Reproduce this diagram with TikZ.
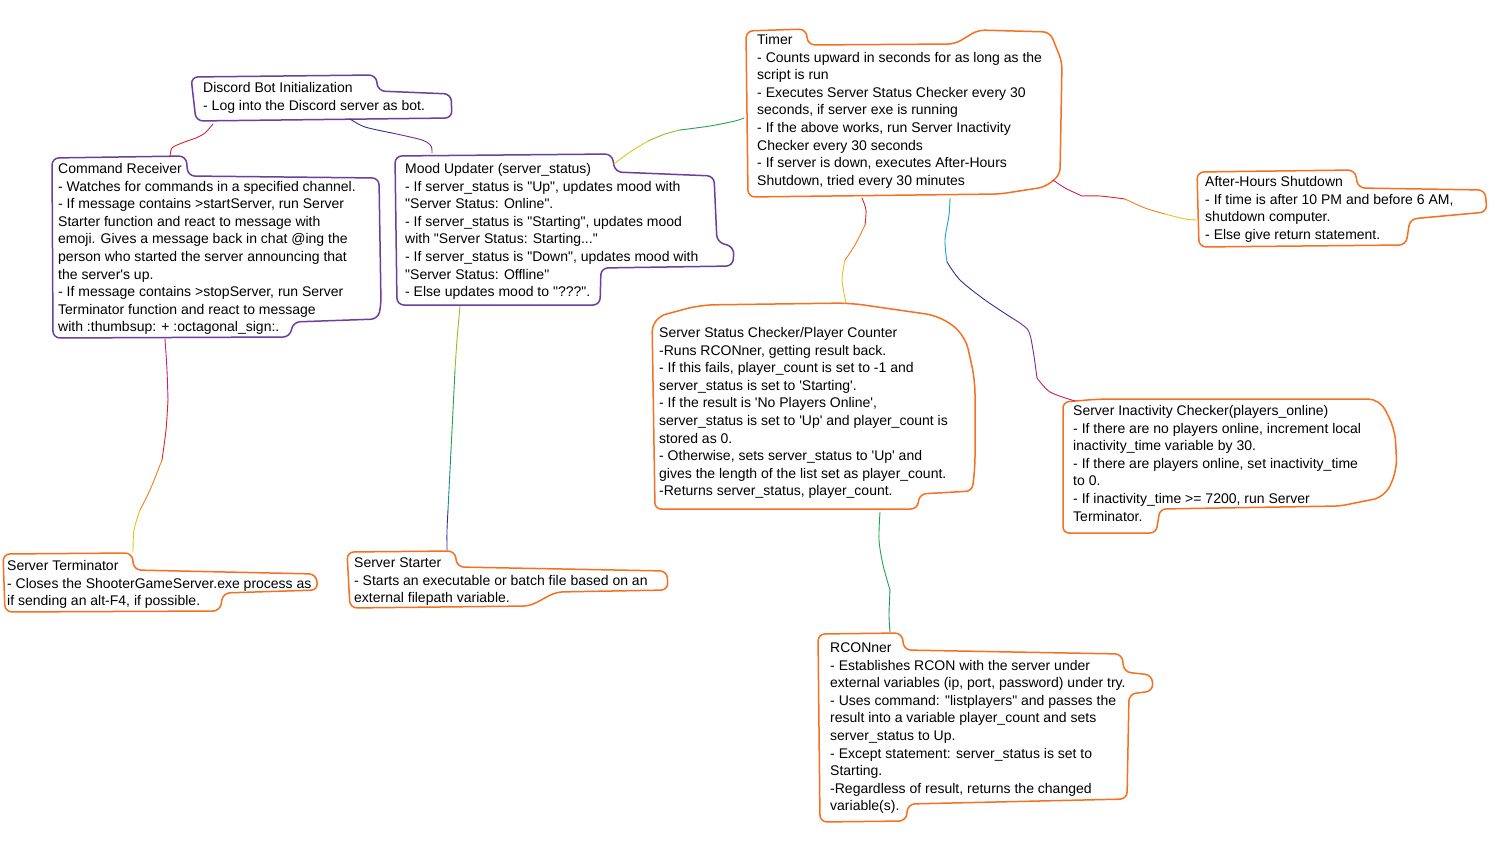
\documentclass[tikz,border=0pt]{standalone}
\usepackage{fontspec}
\newfontfamily\hand{Liberation Sans}
\definecolor{boxorange}{RGB}{245,112,32}
\definecolor{boxpurple}{RGB}{108,62,158}
\definecolor{cmag}{RGB}{200,32,110}
\definecolor{cred}{RGB}{220,36,40}
\definecolor{corange}{RGB}{240,128,32}
\definecolor{cyellow}{RGB}{232,192,32}
\definecolor{cygreen}{RGB}{150,190,40}
\definecolor{cgreen}{RGB}{40,160,80}
\definecolor{cteal}{RGB}{30,140,140}
\definecolor{ccyan}{RGB}{30,160,210}
\definecolor{cnavy}{RGB}{44,52,150}
\definecolor{cpurple}{RGB}{120,40,150}
\tikzset{
  txt/.style={anchor=north west, inner sep=0pt, align=left,
    font=\hand\fontsize{14}{17.6}\selectfont, text=black},
  obox/.style={draw=boxorange, line width=1.5pt, rounded corners=7pt},
  pbox/.style={draw=boxpurple, line width=1.5pt, rounded corners=7pt},
  conn/.style={line width=0.9pt, line cap=round, line join=round},
}
\begin{document}
\begin{tikzpicture}[x=1pt, y=-1pt]
\useasboundingbox (0,0) rectangle (1504,853);
\fill[white] (0,0) rectangle (1504,853);

% ---------- outlines ----------
\draw[pbox] (191,77) -- (376,75) -- (378,91) -- (451,94) -- (452,118) -- (196,121) -- cycle;
\draw[pbox] (52,158) -- (186,156) -- (188,176) -- (379,178) -- (381,305) -- (378,319) -- (293,322) -- (290,337) -- (53,338) -- cycle;
\draw[pbox] (395,156) -- (612,154) -- (615,172) -- (714,176) -- (717,242) -- (734,247) -- (733,266) -- (601,268) -- (600,305) -- (397,305) -- cycle;
\draw[obox] (746,31) -- (806,29) -- (808,45) -- (955,44) -- (978,30) -- (1050,32) -- (1062,62) -- (1060,175) -- (1045,187) -- (1000,194) -- (748,197) -- cycle;
\draw[obox] (1197,172) -- (1355,170) -- (1358,188) -- (1485,190) -- (1487,212) -- (1410,219) -- (1406,245) -- (1199,247) -- cycle;
\draw[obox, rounded corners=14pt] (652,318) -- (700,305) -- (850,303) -- (940,316) -- (965,335) -- (975,380) -- (975,470)
   [rounded corners=6pt] -- (972,491) -- (920,494) -- (917,509) -- (655,509) [rounded corners=14pt] -- cycle;
\draw[obox, rounded corners=12pt] (1063,402) -- (1100,399) -- (1380,399) -- (1395,430) -- (1397,470) -- (1385,497)
   [rounded corners=6pt] -- (1340,506) -- (1160,509) -- (1156,533) -- (1063,533) -- cycle;
\draw[obox] (818,634) -- (902,633) -- (904,650) -- (1122,654) -- (1124,672) -- (1152,675) -- (1153,691) -- (1129,694) -- (1127,799) -- (908,804) -- (906,821) -- (820,822) -- cycle;
\draw[obox] (3,554) -- (132,553) -- (134,570) -- (316,574) -- (318,590) -- (223,593) -- (220,611) -- (5,612) -- cycle;
\draw[obox] (347,552) -- (455,551) -- (457,567) -- (667,571) -- (668,590) -- (556,592) -- (530,606) -- (350,608) -- cycle;

% ---------- texts ----------
\node[txt] (disc) at (203,80) {\strut Discord Bot Initialization\\- Log into the Discord server as bot.};
\node[txt] (cmd) at (58,161) {\strut Command Receiver\\
- Watches for commands in a specified channel.\\
- If message contains >startServer, run Server\\
Starter function and react to message with\\
emoji. Gives a message back in chat @ing the\\
person who started the server announcing that\\
the server's up.\\
- If message contains >stopServer, run Server\\
Terminator function and react to message\\
with :thumbsup: + :octagonal\_sign:.};
\node[txt] (mood) at (405,161) {\strut Mood Updater (server\_status)\\
- If server\_status is "Up", updates mood with\\
"Server Status: Online".\\
- If server\_status is "Starting", updates mood\\
with "Server Status: Starting..."\\
- If server\_status is "Down", updates mood with\\
"Server Status: Offline"\\
- Else updates mood to "???".};
\node[txt] (timer) at (757,32) {\strut Timer\\
- Counts upward in seconds for as long as the\\
script is run\\
- Executes Server Status Checker every 30\\
seconds, if server exe is running\\
- If the above works, run Server Inactivity\\
Checker every 30 seconds\\
- If server is down, executes After-Hours\\
Shutdown, tried every 30 minutes};
\node[txt] (after) at (1205,174) {\strut After-Hours Shutdown\\
- If time is after 10 PM and before 6 AM,\\
shutdown computer.\\
- Else give return statement.};
\node[txt] (ssc) at (659,325) {\strut Server Status Checker/Player Counter\\
-Runs RCONner, getting result back.\\
- If this fails, player\_count is set to -1 and\\
server\_status is set to 'Starting'.\\
- If the result is 'No Players Online',\\
server\_status is set to 'Up' and player\_count is\\
stored as 0.\\
- Otherwise, sets server\_status to 'Up' and\\
gives the length of the list set as player\_count.\\
-Returns server\_status, player\_count.};
\node[txt] (inact) at (1073,403) {\strut Server Inactivity Checker(players\_online)\\
- If there are no players online, increment local\\
inactivity\_time variable by 30.\\
- If there are players online, set inactivity\_time\\
to 0.\\
- If inactivity\_time >= 7200, run Server\\
Terminator.};
\node[txt] (rcon) at (830,640) {\strut RCONner\\
- Establishes RCON with the server under\\
external variables (ip, port, password) under try.\\
- Uses command: "listplayers" and passes the\\
result into a variable player\_count and sets\\
server\_status to Up.\\
- Except statement: server\_status is set to\\
Starting.\\
-Regardless of result, returns the changed\\
variable(s).};
\node[txt] (term) at (7,558) {\strut Server Terminator\\
- Closes the ShooterGameServer.exe process as\\
if sending an alt-F4, if possible.};
\node[txt] (start) at (354,555) {\strut Server Starter\\
- Starts an executable or batch file based on an\\
external filepath variable.};

% ---------- connector end points (on the outlines) ----------
\coordinate (dA) at ([shift={(10,44)}]disc.north west);
\coordinate (dB) at ([shift={(147,39)}]disc.north west);
\coordinate (cT) at ([shift={(112,-4)}]cmd.north west);
\coordinate (cB) at ([shift={(107,178)}]cmd.north west);
\coordinate (mT) at ([shift={(27,-8)}]mood.north west);
\coordinate (mR) at ([shift={(209,3)}]mood.north west);
\coordinate (mB) at ([shift={(55,145)}]mood.north west);
\coordinate (tL) at ([shift={(-13,86)}]timer.north west);
\coordinate (tS1) at ([shift={(105,166)}]timer.north west);
\coordinate (tS2) at ([shift={(193,166)}]timer.north west);
\coordinate (tR) at ([shift={(296,148)}]timer.north west);
\coordinate (aL) at ([shift={(-8,46)}]after.north west);
\coordinate (sT) at ([shift={(187,-22)}]ssc.north west);
\coordinate (sB) at ([shift={(221,187)}]ssc.north west);
\coordinate (iT) at ([shift={(2,-2)}]inact.north west);
\coordinate (rT) at ([shift={(60,-8)}]rcon.north west);
\coordinate (eT) at ([shift={(126,-6)}]term.north west);
\coordinate (stT) at ([shift={(93,-5)}]start.north west);

% ---------- connectors ----------
% Discord -> Command Receiver
\draw[conn, cmag] plot[smooth] coordinates {(dA) (205,133) (196,138)};
\draw[conn, cred] plot[smooth] coordinates {(196,138) (182,143) (172,148) (cT)};
% Discord -> Mood Updater
\draw[conn, cnavy] plot[smooth] coordinates {(dB) (365,127) (392,133)};
\draw[conn, cpurple] plot[smooth] coordinates {(392,133) (422,140) (431,146) (mT)};
% Mood Updater -> Timer
\draw[conn, cyellow] plot[smooth] coordinates {(mR) (630,152) (648,141)};
\draw[conn, cygreen] plot[smooth] coordinates {(648,141) (665,134) (680,130)};
\draw[conn, cgreen] plot[smooth] coordinates {(680,130) (710,126) (735,121) (tL)};
% Command Receiver -> Server Terminator
\draw[conn, cmag] plot[smooth] coordinates {(cB) (167,370) (168,400)};
\draw[conn, cred] plot[smooth] coordinates {(168,400) (166,430) (162,460)};
\draw[conn, corange] plot[smooth] coordinates {(162,460) (150,490) (140,510)};
\draw[conn, cyellow] plot[smooth] coordinates {(140,510) (134,530) (eT)};
% Mood Updater -> Server Starter
\draw[conn, cygreen] plot[smooth] coordinates {(mB) (457,340) (455,370)};
\draw[conn, cgreen] plot[smooth] coordinates {(455,370) (453,410) (451,450)};
\draw[conn, cteal] plot[smooth] coordinates {(451,450) (449,490) (448,510)};
\draw[conn, cnavy] plot[smooth] coordinates {(448,510) (447,530) (stT)};
% Timer -> Server Status Checker
\draw[conn, cred] plot[smooth] coordinates {(tS1) (866,210) (865,225)};
\draw[conn, corange] plot[smooth] coordinates {(865,225) (855,245) (845,260)};
\draw[conn, cyellow] plot[smooth] coordinates {(845,260) (842,280) (sT)};
% Timer -> Server Inactivity Checker
\draw[conn, ccyan] plot[smooth] coordinates {(tS2) (949,215) (945,240) (947,262)};
\draw[conn, cnavy] plot[smooth] coordinates {(947,262) (960,280) (985,300) (1012,318)};
\draw[conn, cpurple] plot[smooth] coordinates {(1012,318) (1028,330) (1033,350) (1037,378)};
\draw[conn, cmag] plot[smooth] coordinates {(1037,378) (1050,392) (iT)};
% Timer -> After-Hours Shutdown
\draw[conn, cmag] plot[smooth] coordinates {(tR) (1065,188) (1082,196)};
\draw[conn, cred] plot[smooth] coordinates {(1082,196) (1100,196) (1125,199)};
\draw[conn, corange] plot[smooth] coordinates {(1125,199) (1145,208) (1165,214)};
\draw[conn, cyellow] plot[smooth] coordinates {(1165,214) (1185,219) (aL)};
% Server Status Checker -> RCONner
\draw[conn, cgreen] plot[smooth] coordinates {(sB) (879,540) (883,565) (890,590)};
\draw[conn, cteal] plot[smooth] coordinates {(890,590) (889,615) (rT)};
\end{tikzpicture}
\end{document}
